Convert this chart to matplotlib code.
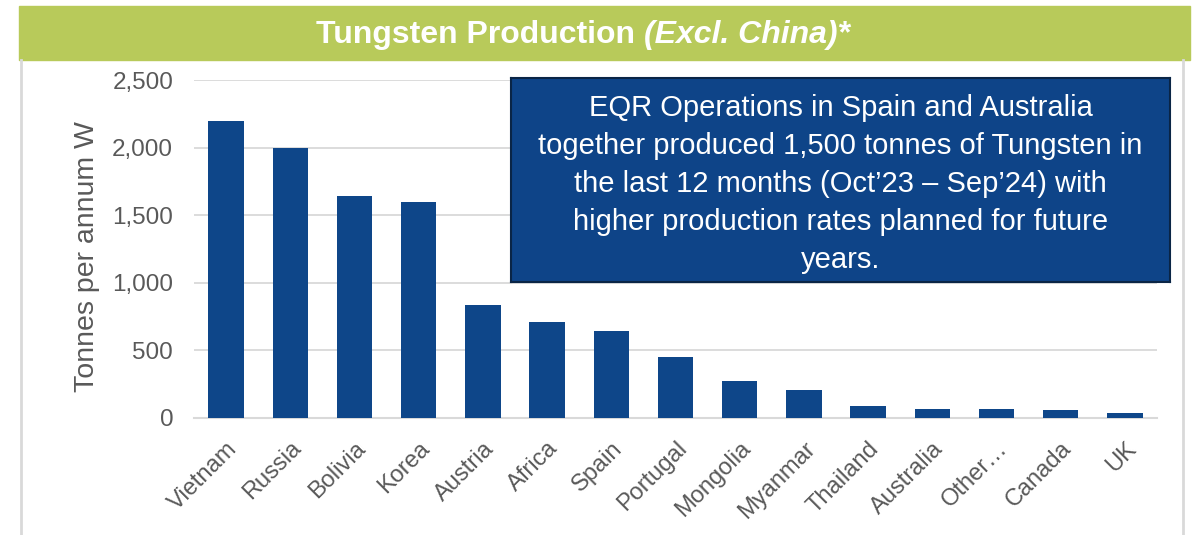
import matplotlib
matplotlib.use('Agg')
import matplotlib.pyplot as plt
from matplotlib.patches import Rectangle
import numpy as np

countries = ['Vietnam', 'Russia', 'Bolivia', 'Korea', 'Austria', 'Africa', 'Spain',
             'Portugal', 'Mongolia', 'Myanmar', 'Thailand', 'Australia', 'Other…',
             'Canada', 'UK']
tonnes = [2200, 2000, 1640, 1600, 835, 710, 645, 450, 275, 210, 92, 67, 67, 62, 40]
yticks = [0, 500, 1000, 1500, 2000, 2500]

BAR = '#0E4689'
GREEN = '#B8CA5A'
GREY = '#595959'
plt.rcParams['font.family'] = ['Liberation Sans', 'DejaVu Sans']

W, H = 1192, 535
fig = plt.figure(figsize=(W / 100, H / 100), dpi=100)

# title band and panel borders
fig.patches.append(Rectangle((19 / W, 1 - 60 / H), (1190 - 19) / W, 54 / H,
                             transform=fig.transFigure, color=GREEN, zorder=0))
for x in (21, 1183):
    fig.add_artist(plt.Line2D([x / W, x / W], [0, 1 - 60 / H],
                              transform=fig.transFigure, color='#D9D9D9', lw=2))
tx = 644 / W  # split point between the plain and the italic part
fig.text(tx, 1 - 35 / H, 'Tungsten Production ', color='white', fontsize=23,
         fontweight='bold', ha='right', va='center')
fig.text(tx, 1 - 35 / H, '(Excl. China)*', color='white', fontsize=23,
         fontweight='bold', style='italic', ha='left', va='center')

ax = fig.add_axes([194 / W, 1 - 418 / H, (1157 - 194) / W, (418 - 80) / H])
x = np.arange(len(countries))
ax.bar(x, tonnes, width=0.55, color=BAR, zorder=3)
ax.set_xlim(-0.5, len(countries) - 0.5)
ax.set_ylim(0, 2500)
ax.set_yticks(yticks)
ax.set_yticklabels([f'{v:,}' for v in yticks])
ax.set_xticks(x)
ax.set_xticklabels(countries, rotation=45, ha='right', rotation_mode='anchor')
ax.tick_params(axis='both', length=0, labelsize=17.5, labelcolor=GREY)
ax.tick_params(axis='y', pad=15)
ax.tick_params(axis='x', labelsize=17, pad=14)
ax.grid(axis='y', color='#D9D9D9', lw=1.3, zorder=0)
for s in ('top', 'right', 'left'):
    ax.spines[s].set_visible(False)
ax.spines['bottom'].set_color('#D9D9D9')
ax.spines['bottom'].set_linewidth(1.5)
ax.set_ylabel('Tonnes per annum W', fontsize=20.5, color=GREY)
ax.yaxis.set_label_coords((100 - 194) / (1157 - 194), (418 - 257) / (418 - 80))

# callout box
box_ax = fig.add_axes([511 / W, 1 - 282 / H, (1170 - 511) / W, (282 - 78) / H])
box_ax.set_xticks([])
box_ax.set_yticks([])
box_ax.set_facecolor('#0E4488')
for s in box_ax.spines.values():
    s.set_color('#0A2546')
    s.set_linewidth(1.5)
box_ax.text(0.5, 0.48,
            'EQR Operations in Spain and Australia\n'
            'together produced 1,500 tonnes of Tungsten in\n'
            'the last 12 months (Oct\u201923 \u2013 Sep\u201924) with\n'
            'higher production rates planned for future\n'
            'years.',
            color='white', fontsize=21, ha='center', va='center',
            linespacing=1.45, transform=box_ax.transAxes)

fig.savefig('out.png', dpi=100)
